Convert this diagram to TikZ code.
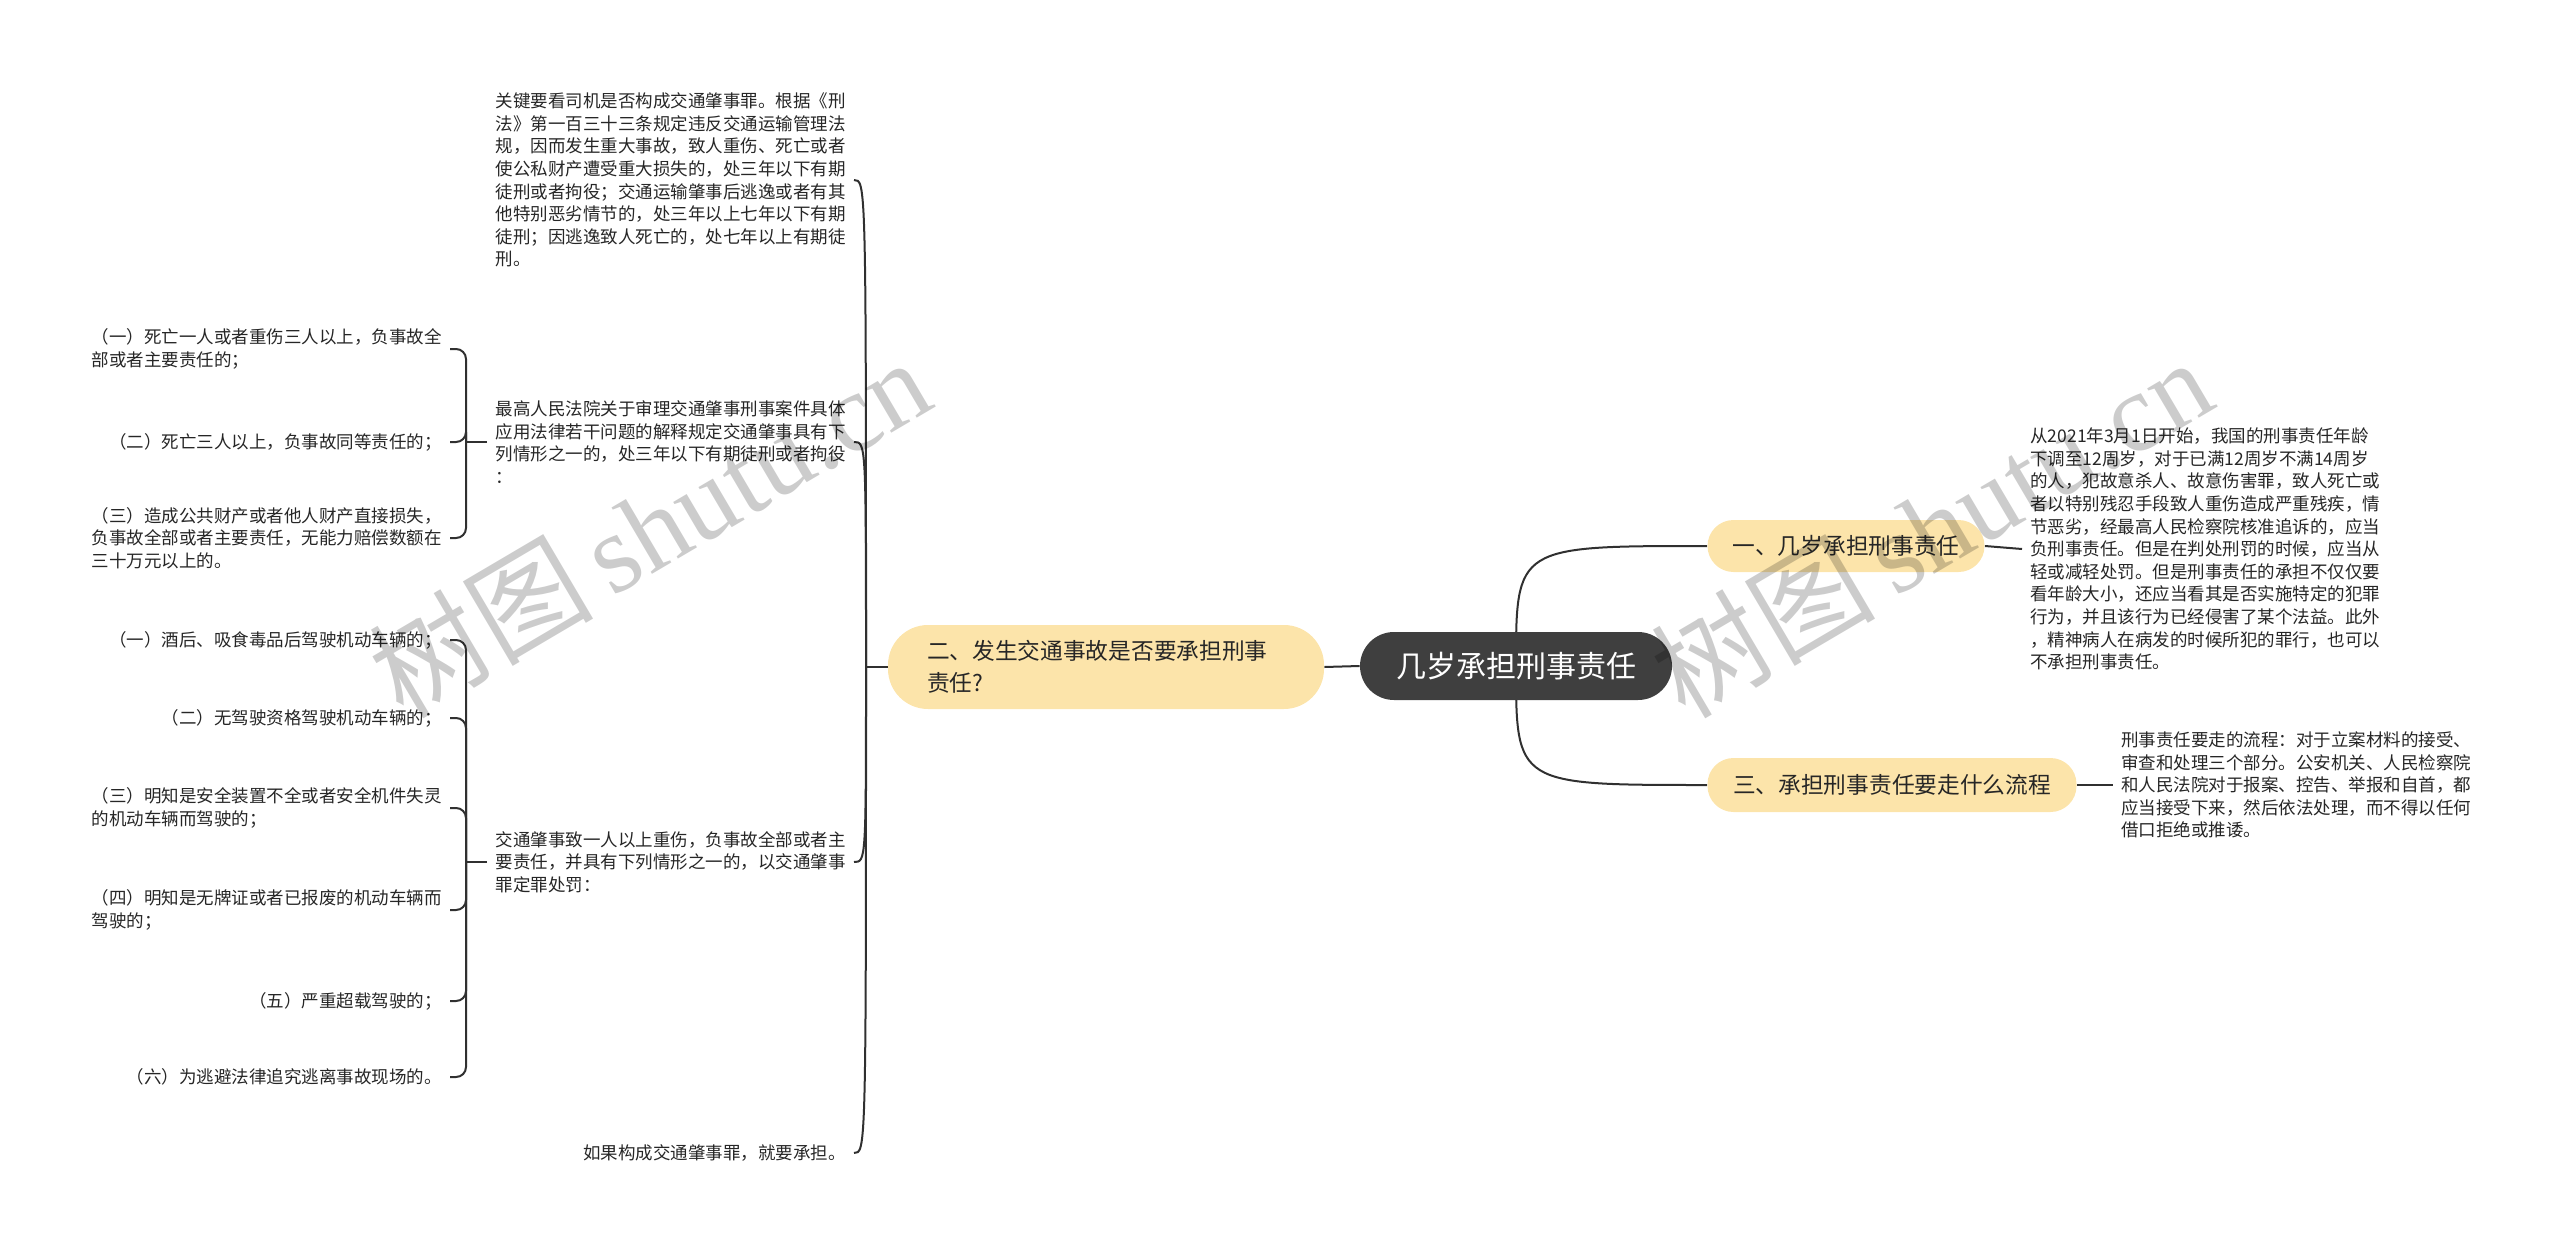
\documentclass[tikz,border=0pt]{standalone}
\usepackage{fontspec}
\newfontfamily\cjk{Noto Sans CJK SC}
\newfontfamily\wmlat{Liberation Serif}
\usetikzlibrary{backgrounds}
\definecolor{rootc}{HTML}{3F3F3F}
\definecolor{branchc}{HTML}{FCE4AA}
\definecolor{linec}{HTML}{303030}
\definecolor{textc}{HTML}{262626}
\begin{document}
\begin{tikzpicture}[x=0.5pt,y=-0.5pt,
  conn/.style={draw=linec, line width=1pt},
  elbow/.style={conn, rounded corners=5pt},
  rootbox/.style={fill=rootc, text=white, rounded corners=17pt, minimum width=156pt, minimum height=34pt, inner sep=0pt, font=\cjk\fontsize{15}{18}\selectfont},
  branchbox/.style={fill=branchc, text=textc, inner sep=0pt, font=\cjk\fontsize{11.35}{16}\selectfont},
  leafR/.style={anchor=west, align=left, inner xsep=4pt, inner ysep=0pt, text=textc, font=\cjk\fontsize{8.75}{11.3}\selectfont},
  leafL/.style={anchor=east, align=left, inner xsep=4pt, inner ysep=0pt, text=textc, font=\cjk\fontsize{8.75}{11.3}\selectfont},
  wm/.style={text=black, opacity=0.2, rotate=30.5, inner sep=0pt}
]
\useasboundingbox (0,0) rectangle (2560,1252);

% root and branches
\node[rootbox] (root) at (1516,666) {几岁承担刑事责任};
\node[branchbox, rounded corners=20pt, minimum height=42pt, text width=179pt, inner xsep=19.5pt, align=left] (lb) at (1106,667) {二、发生交通事故是否要承担刑事\\责任?};
\node[branchbox, rounded corners=13pt, minimum width=138.5pt, minimum height=26pt] (b1) at (1846,546) {一、几岁承担刑事责任};
\node[branchbox, rounded corners=13pt, minimum width=184.5pt, minimum height=27pt] (b3) at (1892,785) {三、承担刑事责任要走什么流程};

% right leaves
\node[leafR] (r1) at (2022,549) {从2021年3月1日开始，我国的刑事责任年龄\\下调至12周岁，对于已满12周岁不满14周岁\\的人，犯故意杀人、故意伤害罪，致人死亡或\\者以特别残忍手段致人重伤造成严重残疾，情\\节恶劣，经最高人民检察院核准追诉的，应当\\负刑事责任。但是在判处刑罚的时候，应当从\\轻或减轻处罚。但是刑事责任的承担不仅仅要\\看年龄大小，还应当看其是否实施特定的犯罪\\行为，并且该行为已经侵害了某个法益。此外\\，精神病人在病发的时候所犯的罪行，也可以\\不承担刑事责任。};
\node[leafR] (r3) at (2113,785) {刑事责任要走的流程：对于立案材料的接受、\\审查和处理三个部分。公安机关、人民检察院\\和人民法院对于报案、控告、举报和自首，都\\应当接受下来，然后依法处理，而不得以任何\\借口拒绝或推诿。};

% left level-2 leaves
\node[leafL] (l1) at (854,180) {关键要看司机是否构成交通肇事罪。根据《刑\\法》第一百三十三条规定违反交通运输管理法\\规，因而发生重大事故，致人重伤、死亡或者\\使公私财产遭受重大损失的，处三年以下有期\\徒刑或者拘役；交通运输肇事后逃逸或者有其\\他特别恶劣情节的，处三年以上七年以下有期\\徒刑；因逃逸致人死亡的，处七年以上有期徒\\刑。};
\node[leafL] (l2) at (854,442) {最高人民法院关于审理交通肇事刑事案件具体\\应用法律若干问题的解释规定交通肇事具有下\\列情形之一的，处三年以下有期徒刑或者拘役\\：};
\node[leafL] (l3) at (854,862) {交通肇事致一人以上重伤，负事故全部或者主\\要责任，并具有下列情形之一的，以交通肇事\\罪定罪处罚：};
\node[leafL] (l4) at (854,1153) {如果构成交通肇事罪，就要承担。};

% left level-3 leaves
\node[leafL] (s2a) at (450,349) {（一）死亡一人或者重伤三人以上，负事故全\\部或者主要责任的；};
\node[leafL] (s2b) at (450,442) {（二）死亡三人以上，负事故同等责任的；};
\node[leafL] (s2c) at (450,538) {（三）造成公共财产或者他人财产直接损失，\\负事故全部或者主要责任，无能力赔偿数额在\\三十万元以上的。};
\node[leafL] (s3a) at (450,640) {（一）酒后、吸食毒品后驾驶机动车辆的；};
\node[leafL] (s3b) at (450,718) {（二）无驾驶资格驾驶机动车辆的；};
\node[leafL] (s3c) at (450,808) {（三）明知是安全装置不全或者安全机件失灵\\的机动车辆而驾驶的；};
\node[leafL] (s3d) at (450,910) {（四）明知是无牌证或者已报废的机动车辆而\\驾驶的；};
\node[leafL] (s3e) at (450,1001) {（五）严重超载驾驶的；};
\node[leafL] (s3f) at (450,1077) {（六）为逃避法律追究逃离事故现场的。};

\coordinate (jL) at (866,667);
\coordinate (j2) at (466,442);
\coordinate (j3) at (466,862);

\begin{scope}[on background layer]
  \draw[conn] (root.west) -- (lb.east);
  \draw[conn] (root.center) .. controls (root.center |- b1.west) and (root.center |- b1.west) .. (b1.west);
  \draw[conn] (root.center) .. controls (root.center |- b3.west) and (root.center |- b3.west) .. (b3.west);
  \draw[conn] (b1.east) -- (r1.west);
  \draw[conn] (b3.east) -- (r3.west);
  \draw[conn] (lb.west) -- (jL);
  \foreach \n in {l1,l2,l3,l4}
    \draw[conn] (jL) .. controls (jL |- \n.east) and (jL |- \n.east) .. (\n.east);
  \draw[conn] (l2.west) -- (j2);
  \foreach \n in {s2a,s2b,s2c}
    \draw[elbow] (j2) |- (\n.east);
  \draw[conn] (l3.west) -- (j3);
  \foreach \n in {s3a,s3b,s3c,s3d,s3e,s3f}
    \draw[elbow] (j3) |- (\n.east);
\end{scope}

% watermarks
\node[wm] (wm1) at (649,527) {\cjk\fontsize{56}{60}\selectfont 树图\,\wmlat shutu.cn};
\node[wm] (wm2) at (1931,527) {\cjk\fontsize{56}{60}\selectfont 树图\,\wmlat shutu.cn};
\end{tikzpicture}
\end{document}
